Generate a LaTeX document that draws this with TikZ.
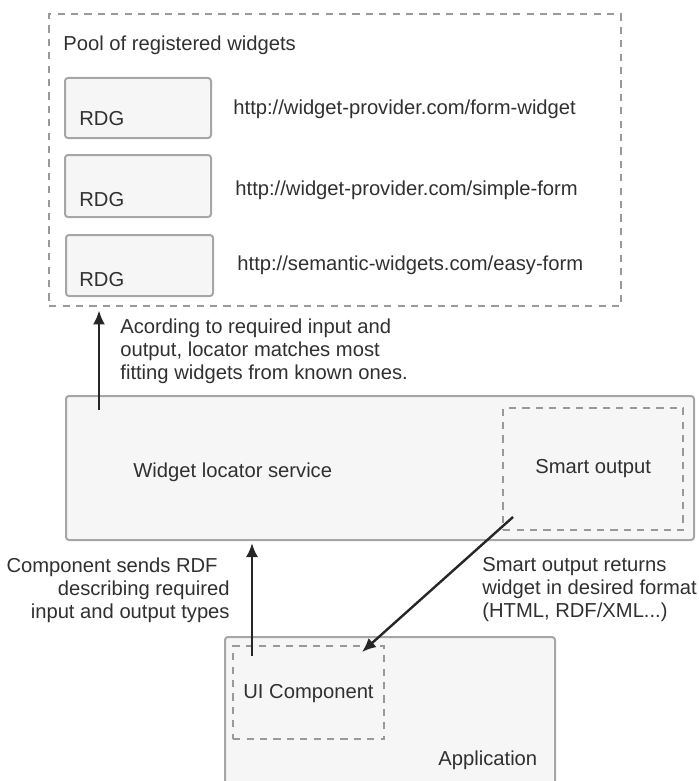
\documentclass[tikz,border=0pt]{standalone}
\usepackage{fontspec}
\setmainfont{Liberation Sans}
\usetikzlibrary{arrows.meta}
\definecolor{ink}{HTML}{303030}
\definecolor{arrowink}{HTML}{262626}
\definecolor{edge}{HTML}{A6A6A6}
\definecolor{panel}{HTML}{F6F6F6}
\definecolor{dash}{HTML}{999999}
\begin{document}
\begin{tikzpicture}[x=0.5pt,y=-0.5pt,
  every node/.style={font=\fontsize{10.1pt}{11.5pt}\selectfont, text=ink},
  solidbox/.style={draw=edge, fill=panel, line width=1pt, rounded corners=1.5pt,
    rectangle, anchor=north west, inner sep=0pt},
  dashbox/.style={draw=dash, line width=1.2pt, dash pattern=on 3.6pt off 3.1pt,
    rectangle, anchor=north west, inner sep=0pt},
  label/.style={inner sep=0pt, anchor=base west},
  note/.style={inner sep=0pt},
  flow/.style={draw=arrowink, line width=1.2pt, -{Latex[length=7pt,width=6pt]}}]
\useasboundingbox (0,0) rectangle (699,781);
\clip (0,0) rectangle (699,781);

% pool of registered widgets
\node[dashbox, minimum width=286pt, minimum height=146pt] (pool) at (48,13) {};
\node[label] (pooltitle) at (63,51) {Pool of registered widgets};
\node[solidbox, minimum width=73pt, minimum height=30pt] (rdg1) at (64,77) {};
\node[solidbox, minimum width=73pt, minimum height=31pt] (rdg2) at (64,154) {};
\node[solidbox, minimum width=73.5pt, minimum height=30.5pt] (rdg3) at (65,234) {};
\node[label] (rdgt1) at (79,126) {RDG};
\node[label] (rdgt2) at (79,206) {RDG};
\node[label] (rdgt3) at (79,286) {RDG};
\node[label] (url1) at (233,115) {http://widget-provider.com/form-widget};
\node[label] (url2) at (235,195) {http://widget-provider.com/simple-form};
\node[label] (url3) at (237,270) {http://semantic-widgets.com/easy-form};

% locator service
\node[solidbox, minimum width=314pt, minimum height=72pt] (wls) at (65,395) {};
\node[label] (wlst) at (133,477) {Widget locator service};
\node[dashbox, minimum width=90pt, minimum height=61pt] (smart) at (502,407) {};
\node[label] (smartt) at (535,473) {Smart output};

% application
\node[solidbox, minimum width=165pt, minimum height=100pt] (app) at (224,636) {};
\node[label] (appt) at (438,765) {Application};
\node[dashbox, minimum width=75.5pt, minimum height=46.5pt] (ui) at (232,645) {};
\node[label] (uit) at (243,698) {UI Component};

% explanatory notes
\node[note, anchor=north west, align=left] (n1) at (120,318.5)
  {Acording to required input and\\output, locator matches most\\fitting widgets from known ones.};
\node[note, anchor=north east, align=right] (n2) at (230,557)
  {Component sends RDF\hspace*{6pt}\\describing required\\input and output types};
\node[note, anchor=north west, align=left] (n3) at (482,557)
  {Smart output returns\\widget in desired format\\(HTML, RDF/XML...)};

% connectors
\coordinate (a1s) at (99,410);
\coordinate (a2s) at (252,656);
\coordinate (a3s) at (513,517);
\coordinate (a3e) at (362,652);
\draw[flow, shorten >=1.5pt] (a1s) -- (a1s |- pool.south);
\draw[flow, shorten >=1pt] (a2s) -- (a2s |- wls.south);
\draw[flow] (a3s) -- (a3e);
\end{tikzpicture}
\end{document}
